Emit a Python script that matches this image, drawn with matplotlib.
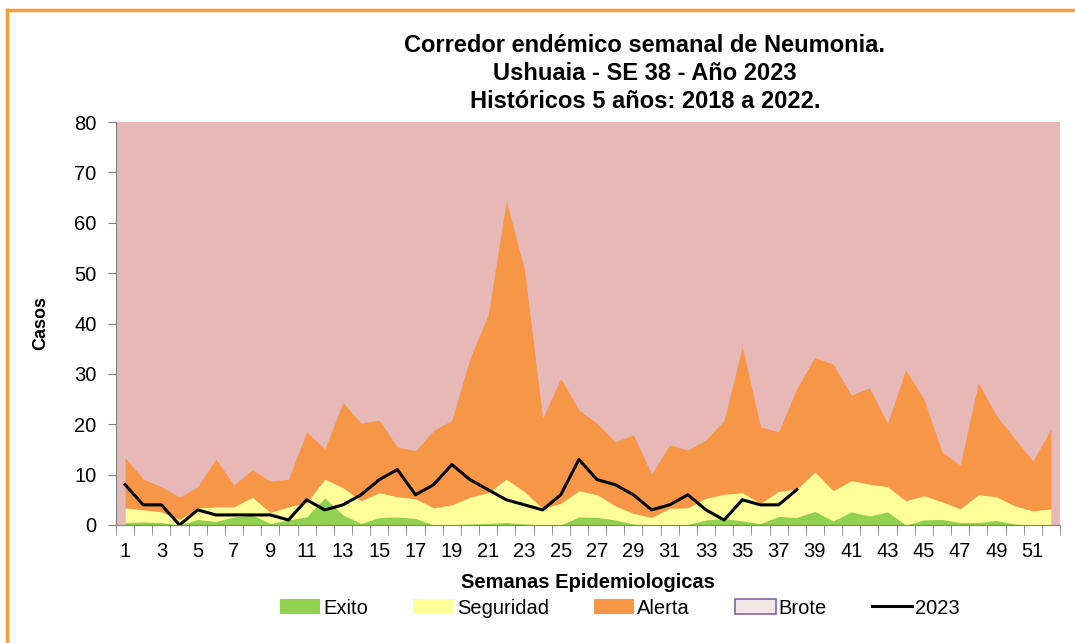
import matplotlib
matplotlib.use("Agg")
import matplotlib.pyplot as plt
from matplotlib.patches import Patch
from matplotlib.lines import Line2D
import numpy as np

plt.rcParams['font.family'] = ['Liberation Sans', 'DejaVu Sans']

weeks = list(range(1, 53))
exito = [0.5, 0.6, 0.5, 0.0, 1.1, 0.7, 1.6, 2.0, 0.3, 1.0, 1.6, 5.4, 2.0, 0.3,
         1.5, 1.6, 1.3, 0.0, 0.1, 0.2, 0.3, 0.5, 0.2, 0.0, 0.0, 1.6, 1.5, 1.0,
         0.2, 0.0, 0.1, 0.1, 1.0, 1.3, 0.8, 0.3, 1.7, 1.5, 2.7, 0.8, 2.6, 1.8,
         2.6, 0.0, 1.0, 1.1, 0.5, 0.5, 0.9, 0.2, 0.0, 0.0]
seguridad = [3.4, 3.0, 2.6, 1.1, 3.4, 3.6, 3.6, 5.5, 2.5, 3.6, 4.4, 9.1, 7.4, 4.8,
             6.4, 5.6, 5.2, 3.4, 4.0, 5.5, 6.4, 9.1, 6.6, 3.3, 4.3, 6.8, 6.0, 3.8,
             2.3, 1.5, 3.3, 3.4, 5.3, 6.1, 6.4, 4.3, 6.7, 7.1, 10.5, 6.8, 8.8, 8.1,
             7.6, 4.8, 5.8, 4.6, 3.2, 6.0, 5.6, 3.8, 2.8, 3.2]
alerta = [13.4, 9.1, 7.6, 5.5, 7.6, 13.1, 7.9, 11.0, 8.7, 9.1, 18.5, 15.1, 24.3, 20.2,
          20.8, 15.5, 14.7, 18.8, 20.8, 33.1, 41.7, 64.3, 50.7, 21.2, 29.1, 22.8, 20.2, 16.5,
          17.9, 10.1, 15.9, 14.9, 16.9, 20.8, 35.4, 19.5, 18.5, 27.1, 33.3, 31.9, 25.8, 27.2,
          20.2, 30.8, 25.0, 14.5, 11.9, 28.2, 21.7, 17.2, 12.7, 19.0]
brote_top = 80
weeks_2023 = list(range(1, 39))
casos_2023 = [8, 4, 4, 0, 3, 2, 2, 2, 2, 1, 5, 3, 4, 6, 9, 11, 6, 8, 12, 9, 7, 5, 4, 3,
              6, 13, 9, 8, 6, 3, 4, 6, 3, 1, 5, 4, 4, 7]

c_green = '#92D050'
c_yellow = '#FFFF99'
c_orange = '#F79646'
c_pink = '#E6B8B7'

fig = plt.figure(figsize=(10.75, 6.43), dpi=100)
ax = fig.add_axes([116/1075, 1 - 525/643, (1060-116)/1075, (525-122)/643])
ax.set_facecolor(c_pink)

ax.fill_between(weeks, alerta, brote_top, color=c_pink, lw=0)
ax.fill_between(weeks, 0, alerta, color=c_orange, lw=0)
ax.fill_between(weeks, 0, seguridad, color=c_yellow, lw=0)
ax.fill_between(weeks, 0, exito, color=c_green, lw=0)
ax.plot(weeks_2023, casos_2023, color='black', lw=2.2)

ax.set_xlim(0.5, 52.5)
ax.set_ylim(0, 80)
ax.set_yticks(range(0, 81, 10))
ax.set_xticks(range(1, 53, 2))
ax.set_xticklabels([str(w) for w in range(1, 53, 2)])
ax.set_xticks(np.arange(0.5, 53, 1), minor=True)
ax.tick_params(axis='x', which='major', length=0, labelsize=14.5, pad=12)
ax.tick_params(axis='x', which='minor', length=7, color='#808080', direction='out')
ax.tick_params(axis='y', which='major', length=6, color='#808080', labelsize=14.5, pad=8)
for s in ['top', 'right']:
    ax.spines[s].set_visible(False)
for s in ['left', 'bottom']:
    ax.spines[s].set_color('#808080')
ax.set_ylabel('Casos', fontsize=13, fontweight='bold', labelpad=18)
ax.set_xlabel('Semanas Epidemiologicas', fontsize=14.5, fontweight='bold', labelpad=9)

fig.text(645/1075, 1 - 73.5/643,
         'Corredor endémico semanal de Neumonia.\nUshuaia - SE 38 - Año 2023\nHistóricos 5 años: 2018 a 2022.',
         ha='center', va='center', fontsize=17, fontweight='bold', linespacing=1.25)

handles = [Patch(facecolor=c_green, edgecolor='none'),
           Patch(facecolor=c_yellow, edgecolor='none'),
           Patch(facecolor=c_orange, edgecolor='none'),
           Patch(facecolor='#F2E6E6', edgecolor='#8064A2', lw=1.2),
           Line2D([0], [0], color='black', lw=2.2)]
labels = ['Exito', 'Seguridad', 'Alerta', 'Brote', '2023']
fig.legend(handles, labels, loc='center', bbox_to_anchor=(620/1075, 1 - 608/643),
           ncol=5, frameon=False, fontsize=14.5, handlelength=2.0, handleheight=0.7,
           handletextpad=0.15, columnspacing=2.25)

fig.add_artist(Line2D([7/1075, 7/1075], [0, 1 - 10/643], color='#F7A030', lw=2.5,
                      transform=fig.transFigure))
fig.add_artist(Line2D([7/1075, 1], [1 - 10/643, 1 - 10/643], color='#F7A030', lw=2.5,
                      transform=fig.transFigure))

fig.savefig('out.png', dpi=100)
